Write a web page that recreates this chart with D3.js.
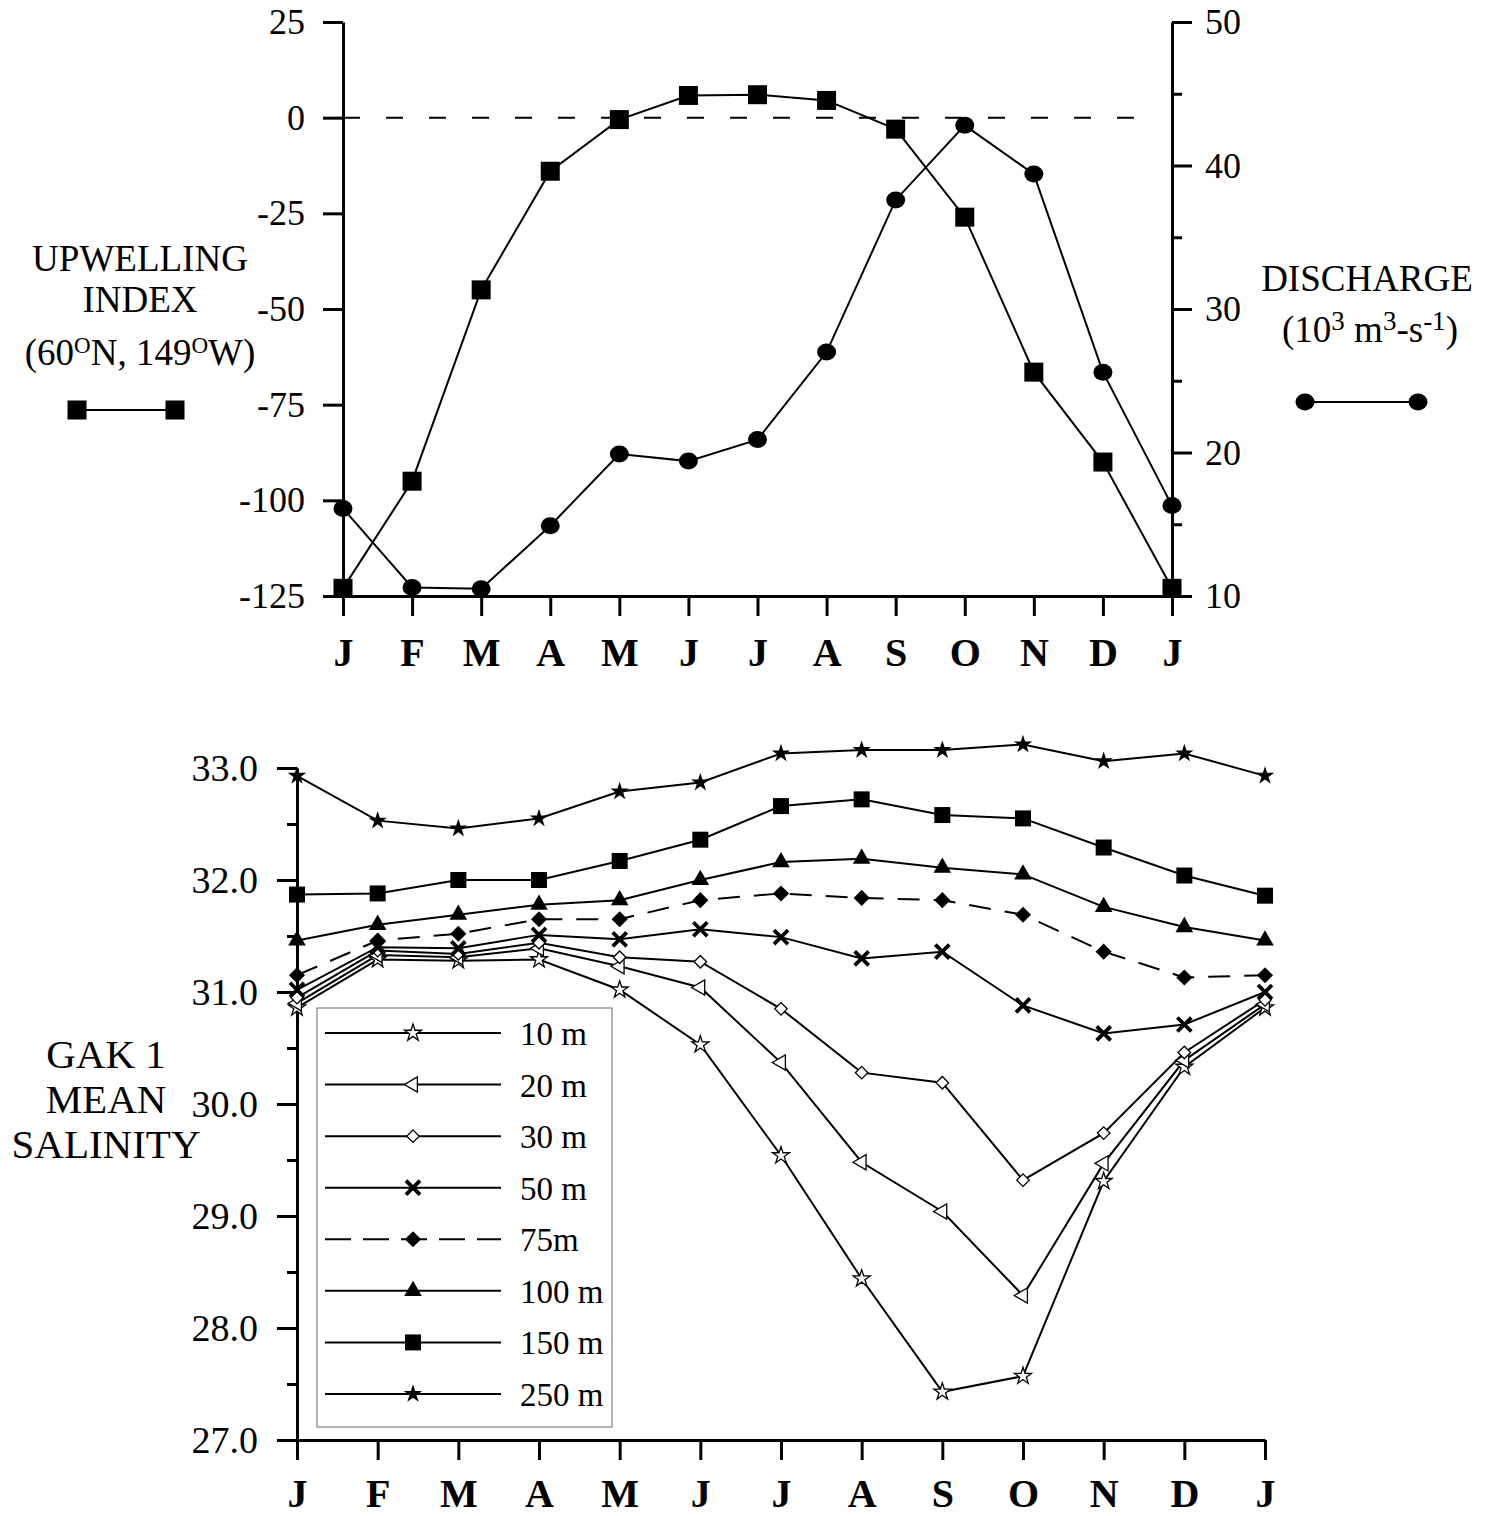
<!DOCTYPE html>
<html>
<head>
<meta charset="utf-8">
<script src="https://cdn.jsdelivr.net/npm/d3@7"></script>
<style>
  body { margin: 0; background: #fff; }
  svg { display: block; }
</style>
</head>
<body>
<svg id="chart"></svg>
<script>
// data
const months = ['J', 'F', 'M', 'A', 'M', 'J', 'J', 'A', 'S', 'O', 'N', 'D', 'J'];

const upwelling = [-123, -95, -45, -14, -0.5, 5.8, 6, 4.5, -3, -26, -66.5, -90, -123];
const discharge = [16.1, 10.6, 10.5, 14.9, 19.9, 19.4, 20.9, 27.0, 37.6, 42.8, 39.4, 25.6, 16.3];

const upTicks = [25, 0, -25, -50, -75, -100, -125];
const disTicks = [10, 20, 30, 40, 50];
const disMinor = [15, 25, 35, 45];

const salTicks = [27, 28, 29, 30, 31, 32, 33];
const salMinor = [27.5, 28.5, 29.5, 30.5, 31.5, 32.5];

const depths = ['10 m', '20 m', '30 m', '50 m', '75m', '100 m', '150 m', '250 m'];
const sal10  = [30.86, 31.29, 31.28, 31.29, 31.02, 30.53, 29.54, 28.44, 27.43, 27.57, 29.31, 30.33, 30.86];
const sal20  = [30.90, 31.33, 31.31, 31.39, 31.23, 31.04, 30.37, 29.48, 29.04, 28.29, 29.47, 30.39, 30.89];
const sal30  = [30.95, 31.37, 31.34, 31.44, 31.31, 31.27, 30.85, 30.28, 30.19, 29.32, 29.74, 30.46, 30.93];
const sal50  = [31.02, 31.40, 31.39, 31.51, 31.47, 31.56, 31.49, 31.30, 31.36, 30.88, 30.63, 30.71, 31.00];
const sal75  = [31.15, 31.46, 31.52, 31.65, 31.65, 31.82, 31.88, 31.84, 31.82, 31.69, 31.36, 31.13, 31.15];
const sal100 = [31.46, 31.60, 31.69, 31.78, 31.82, 32.00, 32.16, 32.19, 32.11, 32.05, 31.76, 31.58, 31.46];
const sal150 = [31.87, 31.88, 32.00, 32.00, 32.17, 32.36, 32.66, 32.72, 32.58, 32.55, 32.29, 32.04, 31.86];
const sal250 = [32.93, 32.53, 32.46, 32.55, 32.79, 32.87, 33.13, 33.16, 33.16, 33.21, 33.06, 33.13, 32.93];

const width = 1485;
const height = 1516;
const serif = '"Liberation Serif", "Times New Roman", Times, serif';

const svg = d3.select('#chart')
    .attr('width', width)
    .attr('height', height);

svg.append('rect').attr('width', width).attr('height', height).attr('fill', '#fff');

function styleAxis(g, size, bold) {
    g.attr('font-family', serif)
     .attr('font-size', size)
     .attr('font-weight', bold ? 'bold' : 'normal');
    g.select('.domain').attr('stroke', '#000').attr('stroke-width', 3);
    g.selectAll('.tick line').attr('stroke', '#000').attr('stroke-width', 3);
    g.selectAll('.tick text').attr('fill', '#000');
}

// ---------------- top panel ----------------
const upper = { left: 343, right: 1172, top: 22, bottom: 596 };

const xTop = d3.scaleLinear().domain([0, 12]).range([upper.left, upper.right]);
const yUp = d3.scaleLinear().domain([-125, 25]).range([upper.bottom, upper.top]);
const yDis = d3.scaleLinear().domain([10, 50]).range([upper.bottom, upper.top]);

// zero line
svg.append('line')
    .attr('x1', upper.left).attr('x2', 1148)
    .attr('y1', yUp(0)).attr('y2', yUp(0))
    .attr('stroke', '#000').attr('stroke-width', 2)
    .attr('stroke-dasharray', '17,26');

svg.append('g')
    .attr('transform', `translate(${upper.left},0)`)
    .call(d3.axisLeft(yUp).tickValues(upTicks).tickFormat(d => String(d))
        .tickSize(20).tickSizeOuter(0).tickPadding(18))
    .call(g => styleAxis(g, 36));

svg.append('g')
    .attr('transform', `translate(${upper.right},0)`)
    .call(d3.axisRight(yDis).tickValues(disTicks).tickSize(20).tickSizeOuter(0).tickPadding(13))
    .call(g => styleAxis(g, 36));

svg.append('g')
    .attr('transform', `translate(${upper.right},0)`)
    .call(d3.axisRight(yDis).tickValues(disMinor).tickSize(10).tickFormat(''))
    .call(g => { styleAxis(g, 36); g.select('.domain').remove(); });

svg.append('g')
    .attr('transform', `translate(0,${upper.bottom})`)
    .call(d3.axisBottom(xTop).tickValues(d3.range(13)).tickFormat(i => months[i])
        .tickSize(20).tickSizeOuter(0).tickPadding(22))
    .call(g => styleAxis(g, 40, true));

// upwelling line + squares
svg.append('path')
    .datum(upwelling)
    .attr('fill', 'none').attr('stroke', '#000').attr('stroke-width', 2)
    .attr('d', d3.line().x((d, i) => xTop(i)).y(d => yUp(d)));

svg.selectAll('.up-pt')
    .data(upwelling)
    .enter().append('rect')
    .attr('class', 'up-pt')
    .attr('x', (d, i) => xTop(i) - 9.5)
    .attr('y', d => yUp(d) - 9.5)
    .attr('width', 19).attr('height', 19)
    .attr('fill', '#000');

// discharge line + circles
svg.append('path')
    .datum(discharge)
    .attr('fill', 'none').attr('stroke', '#000').attr('stroke-width', 2)
    .attr('d', d3.line().x((d, i) => xTop(i)).y(d => yDis(d)));

svg.selectAll('.dis-pt')
    .data(discharge)
    .enter().append('ellipse')
    .attr('class', 'dis-pt')
    .attr('cx', (d, i) => xTop(i))
    .attr('cy', d => yDis(d))
    .attr('rx', 9.5).attr('ry', 8.5)
    .attr('fill', '#000');

// left legend text
const upLabel = svg.append('text')
    .attr('font-family', serif).attr('font-size', 37)
    .attr('text-anchor', 'middle');
upLabel.append('tspan').attr('x', 140).attr('y', 271).text('UPWELLING');
upLabel.append('tspan').attr('x', 140).attr('y', 312).text('INDEX');
const coord = svg.append('text')
    .attr('font-family', serif).attr('font-size', 37)
    .attr('text-anchor', 'middle')
    .attr('x', 140).attr('y', 365);
coord.append('tspan').text('(60');
coord.append('tspan').attr('font-size', 23).attr('dy', -12).text('O');
coord.append('tspan').attr('dy', 12).text('N, 149');
coord.append('tspan').attr('font-size', 23).attr('dy', -12).text('O');
coord.append('tspan').attr('dy', 12).text('W)');

svg.append('line')
    .attr('x1', 77).attr('x2', 175).attr('y1', 410).attr('y2', 410)
    .attr('stroke', '#000').attr('stroke-width', 2);
svg.selectAll('.up-key')
    .data([77, 175])
    .enter().append('rect')
    .attr('x', d => d - 9.5).attr('y', 400.5)
    .attr('width', 19).attr('height', 19).attr('fill', '#000');

// right legend text
svg.append('text')
    .attr('font-family', serif).attr('font-size', 37)
    .attr('text-anchor', 'middle')
    .attr('x', 1367).attr('y', 291)
    .text('DISCHARGE');
const units = svg.append('text')
    .attr('font-family', serif).attr('font-size', 37)
    .attr('text-anchor', 'middle')
    .attr('x', 1370).attr('y', 342);
units.append('tspan').text('(10');
units.append('tspan').attr('font-size', 27).attr('dy', -12).text('3');
units.append('tspan').attr('dy', 12).text(' m');
units.append('tspan').attr('font-size', 27).attr('dy', -12).text('3');
units.append('tspan').attr('dy', 12).text('-s');
units.append('tspan').attr('font-size', 27).attr('dy', -12).text('-1');
units.append('tspan').attr('dy', 12).text(')');

svg.append('line')
    .attr('x1', 1305).attr('x2', 1418).attr('y1', 402).attr('y2', 402)
    .attr('stroke', '#000').attr('stroke-width', 2);
svg.selectAll('.dis-key')
    .data([1305, 1418])
    .enter().append('ellipse')
    .attr('cx', d => d).attr('cy', 402)
    .attr('rx', 9.5).attr('ry', 8.5).attr('fill', '#000');

// ---------------- bottom panel ----------------
const lower = { left: 297, right: 1265, top: 768, bottom: 1440 };

const xBot = d3.scaleLinear().domain([0, 12]).range([lower.left, lower.right]);
const ySal = d3.scaleLinear().domain([27, 33]).range([lower.bottom, lower.top]);

svg.append('g')
    .attr('transform', `translate(${lower.left},0)`)
    .call(d3.axisLeft(ySal).tickValues(salTicks).tickFormat(d3.format('.1f'))
        .tickSize(20).tickSizeOuter(0).tickPadding(19))
    .call(g => styleAxis(g, 38));

svg.append('g')
    .attr('transform', `translate(${lower.left},0)`)
    .call(d3.axisLeft(ySal).tickValues(salMinor).tickSize(10).tickFormat(''))
    .call(g => { styleAxis(g, 38); g.select('.domain').remove(); });

svg.append('g')
    .attr('transform', `translate(0,${lower.bottom})`)
    .call(d3.axisBottom(xBot).tickValues(d3.range(13)).tickFormat(i => months[i])
        .tickSize(20).tickSizeOuter(0).tickPadding(19))
    .call(g => styleAxis(g, 40, true));

// marker drawing per depth
const star = d3.symbol().type(d3.symbolStar);
const tri = d3.symbol().type(d3.symbolTriangle);
const sq = d3.symbol().type(d3.symbolSquare);

const markers = [
    g => g.append('path').attr('d', star.size(90)()).attr('fill', '#fff').attr('stroke', '#000').attr('stroke-width', 1.3),
    g => g.append('path').attr('d', tri.size(100)()).attr('transform', 'rotate(-90)').attr('fill', '#fff').attr('stroke', '#000').attr('stroke-width', 1.3),
    g => g.append('path').attr('d', sq.size(78)()).attr('transform', 'rotate(45)').attr('fill', '#fff').attr('stroke', '#000').attr('stroke-width', 1.3),
    g => g.append('path').attr('d', 'M-7,-7L7,7M7,-7L-7,7').attr('fill', 'none').attr('stroke', '#000').attr('stroke-width', 3.8),
    g => g.append('path').attr('d', sq.size(130)()).attr('transform', 'rotate(45)').attr('fill', '#000'),
    g => g.append('path').attr('d', tri.size(135)()).attr('fill', '#000'),
    g => g.append('path').attr('d', sq.size(256)()).attr('fill', '#000'),
    g => g.append('path').attr('d', star.size(105)()).attr('fill', '#000')
];
const dashes = [null, null, null, null, '22,14', null, null, null];
const salSeries = [sal10, sal20, sal30, sal50, sal75, sal100, sal150, sal250];

const salLine = d3.line().x((d, i) => xBot(i)).y(d => ySal(d));

salSeries.forEach((s, k) => {
    svg.append('path')
        .datum(s)
        .attr('fill', 'none').attr('stroke', '#000').attr('stroke-width', 2)
        .attr('stroke-dasharray', dashes[k])
        .attr('d', salLine);
});
salSeries.forEach((s, k) => {
    svg.selectAll('.pt' + k)
        .data(s)
        .enter().append('g')
        .attr('class', 'pt' + k)
        .attr('transform', (d, i) => `translate(${xBot(i)},${ySal(d)})`)
        .each(function() { markers[k](d3.select(this)); });
});

// legend box
const legend = svg.append('g');
legend.append('rect')
    .attr('x', 317).attr('y', 1008)
    .attr('width', 295).attr('height', 419)
    .attr('fill', '#fff').attr('stroke', '#666').attr('stroke-width', 1);

const rowY = d3.scalePoint().domain(depths).range([1033, 1394]);
depths.forEach((name, k) => {
    const y = rowY(name);
    legend.append('line')
        .attr('x1', 325).attr('x2', 501).attr('y1', y).attr('y2', y)
        .attr('stroke', '#000').attr('stroke-width', 2)
        .attr('stroke-dasharray', k === 4 ? '26,12' : null);
    markers[k](legend.append('g').attr('transform', `translate(413,${y})`));
    legend.append('text')
        .attr('x', 520).attr('y', y + 12)
        .attr('font-family', serif).attr('font-size', 33)
        .text(name);
});

// left title
const salLabel = svg.append('text')
    .attr('font-family', serif).attr('font-size', 41)
    .attr('text-anchor', 'middle');
salLabel.append('tspan').attr('x', 106).attr('y', 1068).text('GAK 1');
salLabel.append('tspan').attr('x', 106).attr('y', 1113).text('MEAN');
salLabel.append('tspan').attr('x', 106).attr('y', 1158).text('SALINITY');
</script>
</body>
</html>
